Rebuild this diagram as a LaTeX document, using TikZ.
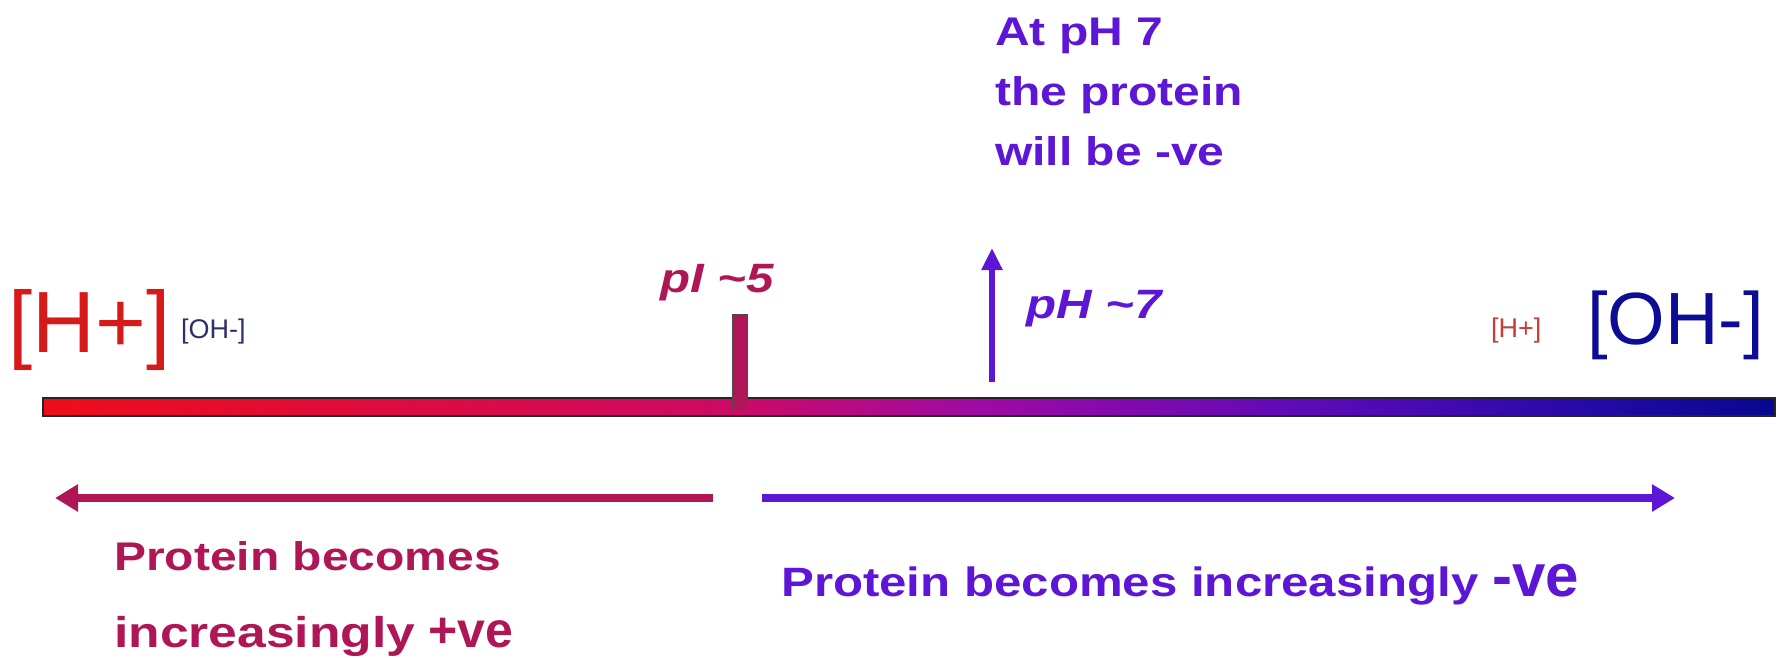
\documentclass[tikz,border=0pt]{standalone}
\usepackage{fontspec}
\setmainfont{Liberation Sans}
\newfontfamily\widefont[FakeStretch=1.2]{Liberation Sans}
\usetikzlibrary{positioning,arrows.meta}

\definecolor{hred}{RGB}{214,26,26}
\definecolor{ohnavy}{RGB}{12,12,150}
\definecolor{ohslate}{RGB}{48,48,105}
\definecolor{hpink}{RGB}{200,60,60}
\definecolor{crimson}{RGB}{174,22,86}
\definecolor{violet}{RGB}{94,22,214}
% stops are placed in the inner 25bp--75bp band that tikz stretches over a path
\pgfdeclarehorizontalshading{phgrad}{100bp}{rgb(0bp)=(0.93,0.05,0.10); rgb(25bp)=(0.93,0.05,0.10); rgb(45bp)=(0.80,0.04,0.40); rgb(52bp)=(0.62,0.04,0.64); rgb(61bp)=(0.38,0.04,0.72); rgb(69bp)=(0.16,0.04,0.66); rgb(75bp)=(0.03,0.03,0.56); rgb(100bp)=(0.03,0.03,0.56)}

\tikzset{
  lbl/.style={inner sep=0pt, anchor=base west},
  conc/.style={inner sep=0pt, font=\fontsize{#1}{#1}\selectfont},
  bold/.style={font=\widefont\fontsize{#1}{#1}\selectfont\bfseries},
  ital/.style={font=\widefont\fontsize{#1}{#1}\selectfont\bfseries\itshape},
  bar/.style={draw=black!85, line width=1.2pt, shading=phgrad, inner sep=0pt},
  thick arrow/.style={line width=#1, -{Triangle[length=23pt, width=26pt]}},
}
\newcommand{\charge}[2]{{\normalfont\fontsize{#1}{#1}\selectfont\bfseries #2}}

\begin{document}
\begin{tikzpicture}[x=1pt, y=-1pt]
  \useasboundingbox (0,0) rectangle (1780,657);

  % pH scale bar
  \node[bar, minimum width=1732pt, minimum height=18pt] (scale) at (909,407) {};
  \node[draw=black!70, fill=crimson, line width=1pt, inner sep=0pt,
        minimum width=15pt, minimum height=95pt] (pitick) at (739.5,362) {};

  % Concentrations at the two ends
  \node[conc=87, lbl, text=hred] (hbig) at (8,352) {[H+]};
  \node[conc=27, lbl, text=ohslate] (ohsmall) at (181,338) {[OH-]};
  \node[conc=27, lbl, text=hpink] (hsmall) at (1491,337) {[H+]};
  \node[conc=74, anchor=base east, text=ohnavy] (ohbig) at (1764,344) {[OH-]};

  % pI and pH marks
  \node[lbl, text=crimson, ital=41] (pi) at (660,292) {pI \textasciitilde5};
  \coordinate (upfoot) at (992,382);
  \coordinate (uptip) at (992,248);
  \draw[violet, line width=6pt, -{Triangle[length=22pt, width=20pt]}] (upfoot) -- (uptip);
  \node[lbl, text=violet, ital=41] (ph) at (1026,318) {pH \textasciitilde7};
  \node[anchor=north west, inner sep=0pt, align=left, text=violet,
        font=\widefont\fontsize{40}{60}\selectfont\bfseries] (note) at (995,18)
        {At pH 7\\the protein\\will be -ve};

  % Charge direction arrows
  \coordinate (lstart) at (713,498);
  \coordinate (lend) at (55,498);
  \coordinate (rstart) at (762,498);
  \coordinate (rend) at (1675,498);
  \draw[crimson, thick arrow=8pt] (lstart) -- (lend);
  \draw[violet, thick arrow=8pt] (rstart) -- (rend);

  \node[anchor=north west, inner sep=0pt, align=left, text=crimson,
        font=\widefont\fontsize{40}{77}\selectfont\bfseries] (posnote) at (114,541)
        {Protein becomes\\{\fontsize{43}{43}\selectfont increasingly} \charge{50}{+ve}};
  \node[lbl, text=violet, bold=41] (negnote) at (781,596)
        {Protein becomes increasingly \charge{60}{-ve}};
\end{tikzpicture}
\end{document}
